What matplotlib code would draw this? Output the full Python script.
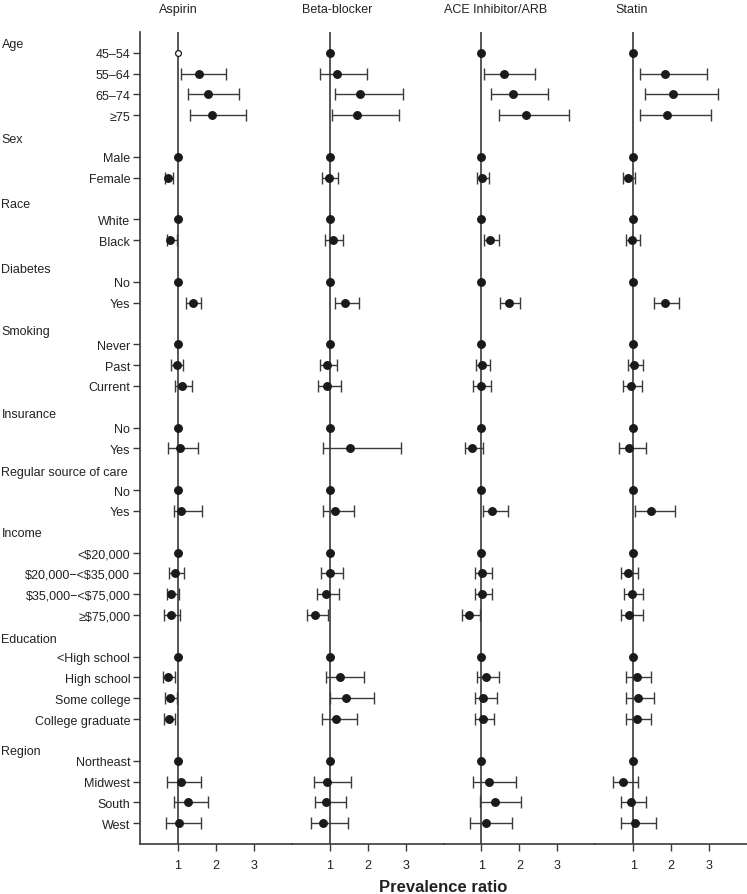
import matplotlib
matplotlib.use("Agg")
import matplotlib.pyplot as plt
import matplotlib.transforms as mtransforms
import numpy as np

plt.rcParams['font.family'] = ['Liberation Sans', 'DejaVu Sans']

# ---------------- data ----------------
groups = ["Age", "Sex", "Race", "Diabetes", "Smoking", "Insurance",
          "Regular source of care", "Income", "Education", "Region"]
group_levels = [
    ["45\u201354", "55\u201364", "65\u201374", "\u226575"],
    ["Male", "Female"],
    ["White", "Black"],
    ["No", "Yes"],
    ["Never", "Past", "Current"],
    ["No", "Yes"],
    ["No", "Yes"],
    ["<$20,000", "$20,000\u2212<$35,000", "$35,000\u2212<$75,000", "\u2265$75,000"],
    ["<High school", "High school", "Some college", "College graduate"],
    ["Northeast", "Midwest", "South", "West"],
]
drugs = ["Aspirin", "Beta-blocker", "ACE Inhibitor/ARB", "Statin"]

# point estimates (reference categories = 1, no CI)
aspirin_pr = [1, 1.56, 1.78, 1.91, 1, 0.74, 1, 0.80, 1, 1.39, 1, 0.97, 1.11,
              1, 1.05, 1, 1.09, 1, 0.91, 0.83, 0.81, 1, 0.75, 0.78, 0.76,
              1, 1.08, 1.26, 1.04]
aspirin_lo = [np.nan, 1.09, 1.26, 1.32, np.nan, 0.66, np.nan, 0.72, np.nan, 1.20,
              np.nan, 0.82, 0.92, np.nan, 0.75, np.nan, 0.89, np.nan, 0.77, 0.70,
              0.63, np.nan, 0.61, 0.65, 0.62, np.nan, 0.72, 0.90, 0.69]
aspirin_hi = [np.nan, 2.27, 2.60, 2.79, np.nan, 0.87, np.nan, 0.97, np.nan, 1.61,
              np.nan, 1.13, 1.37, np.nan, 1.54, np.nan, 1.63, np.nan, 1.15, 1.04,
              1.06, np.nan, 0.92, 0.98, 0.91, np.nan, 1.62, 1.80, 1.60]

beta_pr = [1, 1.19, 1.80, 1.72, 1, 0.97, 1, 1.08, 1, 1.40, 1, 0.93, 0.93,
           1, 1.54, 1, 1.15, 1, 1.00, 0.89, 0.60, 1, 1.28, 1.44, 1.16,
           1, 0.92, 0.90, 0.83]
beta_lo = [np.nan, 0.74, 1.13, 1.06, np.nan, 0.80, np.nan, 0.88, np.nan, 1.14,
           np.nan, 0.74, 0.69, np.nan, 0.82, np.nan, 0.82, np.nan, 0.77, 0.67,
           0.39, np.nan, 0.89, 1.00, 0.81, np.nan, 0.58, 0.60, 0.50]
beta_hi = [np.nan, 1.98, 2.92, 2.84, np.nan, 1.23, np.nan, 1.34, np.nan, 1.77,
           np.nan, 1.18, 1.29, np.nan, 2.88, np.nan, 1.63, np.nan, 1.36, 1.24,
           0.96, np.nan, 1.90, 2.16, 1.72, np.nan, 1.55, 1.43, 1.47]

ace_pr = [1, 1.60, 1.83, 2.18, 1, 1.01, 1, 1.23, 1, 1.72, 1, 1.01, 0.98,
          1, 0.74, 1, 1.29, 1, 1.01, 1.01, 0.68, 1, 1.12, 1.05, 1.03,
          1, 1.20, 1.37, 1.12]
ace_lo = [np.nan, 1.07, 1.24, 1.46, np.nan, 0.87, np.nan, 1.06, np.nan, 1.48,
          np.nan, 0.85, 0.79, np.nan, 0.57, np.nan, 1.03, np.nan, 0.82, 0.82,
          0.49, np.nan, 0.89, 0.82, 0.82, np.nan, 0.79, 0.95, 0.71]
ace_hi = [np.nan, 2.42, 2.76, 3.30, np.nan, 1.20, np.nan, 1.47, np.nan, 2.02,
          np.nan, 1.22, 1.26, np.nan, 1.04, np.nan, 1.69, np.nan, 1.28, 1.28,
          0.96, np.nan, 1.46, 1.40, 1.34, np.nan, 1.90, 2.03, 1.80]

statin_pr = [1, 1.85, 2.05, 1.90, 1, 0.87, 1, 0.96, 1, 1.85, 1, 1.03, 0.93,
             1, 0.89, 1, 1.47, 1, 0.87, 0.97, 0.90, 1, 1.10, 1.12, 1.09,
             1, 0.72, 0.94, 1.04]
statin_lo = [np.nan, 1.18, 1.31, 1.19, np.nan, 0.74, np.nan, 0.82, np.nan, 1.56,
             np.nan, 0.86, 0.74, np.nan, 0.63, np.nan, 1.06, np.nan, 0.68, 0.77,
             0.67, np.nan, 0.82, 0.82, 0.82, np.nan, 0.48, 0.67, 0.69]
statin_hi = [np.nan, 2.94, 3.23, 3.05, np.nan, 1.05, np.nan, 1.18, np.nan, 2.21,
             np.nan, 1.26, 1.23, np.nan, 1.33, np.nan, 2.11, np.nan, 1.13, 1.26,
             1.26, np.nan, 1.48, 1.55, 1.47, np.nan, 1.12, 1.35, 1.60]

x_ticks = [1, 2, 3]
x_label = "Prevalence ratio"

# ---------------- layout ----------------
W, H = 747, 895
fig = plt.figure(figsize=(W / 100, H / 100), dpi=100)

left_px, right_px, top_px, bot_px = 140, 747, 33, 845
pw = (right_px - left_px) / 4

# row positions
level_rows, header_rows, labels = [], [], []
r = 0
for g, levs in zip(groups, group_levels):
    header_rows.append(r)
    r += 1
    for lv in levs:
        level_rows.append(r)
        labels.append(lv.replace("$", r"\$"))
        r += 1
n_rows = r

header_offsets = [0.6, 0.12, 0.27, 0.38, 0.38, 0.33, 0.15, 0.05, 0.15, 0.55]

series = [(aspirin_pr, aspirin_lo, aspirin_hi), (beta_pr, beta_lo, beta_hi),
          (ace_pr, ace_lo, ace_hi), (statin_pr, statin_lo, statin_hi)]

mk_col = "#1a1a1a"
ln_col = "#3a3a3a"

axes = []
for i, (drug, (pr, lo, hi)) in enumerate(zip(drugs, series)):
    ax = fig.add_axes([(left_px + i * pw) / W, 1 - bot_px / H,
                       pw / W, (bot_px - top_px) / H])
    axes.append(ax)
    pr = np.array(pr, float); lo = np.array(lo, float); hi = np.array(hi, float)
    y = np.array(level_rows, float)
    ax.axvline(1, color=ln_col, lw=1.2, zorder=1)
    has_ci = ~np.isnan(lo)
    ax.errorbar(pr[has_ci], y[has_ci],
                xerr=[pr[has_ci] - lo[has_ci], hi[has_ci] - pr[has_ci]],
                fmt='none', ecolor=ln_col, elinewidth=1.0, capsize=4,
                capthick=1.0, zorder=2)
    filled = np.ones(len(pr), bool)
    if i == 0:
        filled[0] = False
        ax.plot(pr[0], y[0], 'o', ms=4.2, mfc='white', mec=mk_col, mew=0.9, zorder=3)
    ax.plot(pr[filled], y[filled], 'o', ms=5.4, color=mk_col, zorder=3)

    ax.set_xlim(0, 4)
    ax.set_ylim(n_rows, 0)
    ax.set_xticks(x_ticks)
    ax.set_xticklabels([str(t) for t in x_ticks])
    ax.tick_params(axis='x', length=5, width=1, color=ln_col, labelsize=9,
                   pad=6, labelcolor='#222222')
    for s in ['top', 'right']:
        ax.spines[s].set_visible(False)
    ax.spines['bottom'].set_color(ln_col)
    ax.spines['bottom'].set_linewidth(1.2)
    if i == 0:
        ax.spines['left'].set_color(ln_col)
        ax.spines['left'].set_linewidth(1.2)
        ax.set_yticks(level_rows)
        ax.set_yticklabels(labels)
        ax.tick_params(axis='y', length=5, width=1, color=ln_col, labelsize=9,
                       pad=2, labelcolor='#222222')
    else:
        ax.spines['left'].set_visible(False)
        ax.set_yticks([])
    ax.patch.set_alpha(0)

# panel titles
title_x = [178, 337, 496, 632]
for tx, drug in zip(title_x, drugs):
    fig.text(tx / W, 1 - 10 / H, drug, ha='center', va='center', fontsize=9,
             color='#222222')

# group headers
trans = mtransforms.blended_transform_factory(fig.transFigure, axes[0].transData)
for g, hr, off in zip(groups, header_rows, header_offsets):
    axes[0].text(0.002, hr + off, g, transform=trans, ha='left', va='center',
                 fontsize=9, color='#222222', clip_on=False)

fig.text((left_px + right_px) / 2 / W, 1 - 888 / H, x_label, ha='center',
         va='center', fontsize=12, fontweight='bold', color='#222222')

fig.savefig("out.png", dpi=100)
